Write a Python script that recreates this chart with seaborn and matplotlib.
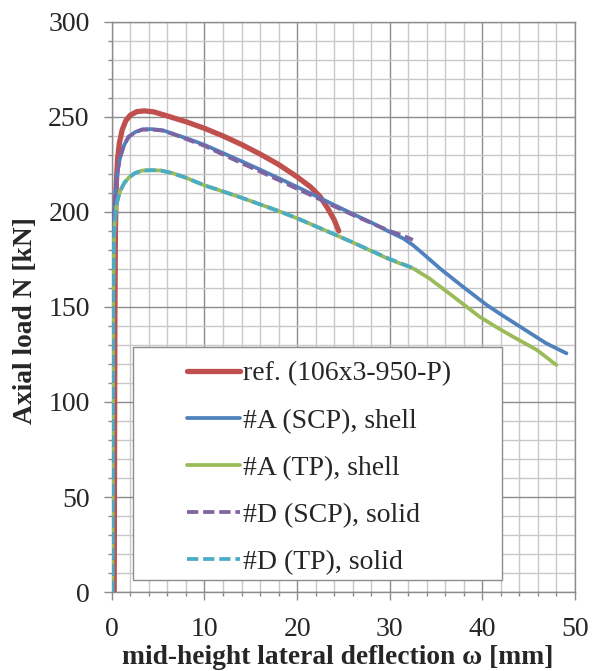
import numpy as np
import pandas as pd
import matplotlib
matplotlib.use("Agg")
import matplotlib.pyplot as plt
import seaborn as sns
from matplotlib.patches import Rectangle
from matplotlib.ticker import MultipleLocator

# ---------------- data ----------------
ref_x = [0.25, 0.28, 0.32, 0.38, 0.48, 0.62, 0.8, 1.1, 1.5, 2.0, 2.7, 3.5, 4.5, 6, 8, 10, 12, 14, 16, 18, 20, 21.5, 22.5, 23.3, 24.0, 24.5]
ref_y = [0, 60, 140, 190, 215, 228, 236, 243, 248, 251, 252.8, 253.2, 252.7, 250.5, 247.5, 244, 240, 235.5, 230.5, 225, 218.5, 213, 208, 202, 196, 190]

a_scp_x = [0.05, 0.1, 0.15, 0.25, 0.4, 0.6, 0.9, 1.3, 1.8, 2.5, 3.3, 4.3, 5.5, 7, 8.5, 10, 12, 14, 16, 18, 20, 22, 24, 26, 28, 30, 31.5, 32.5, 33.5, 35.4, 37.9, 40.5, 42.3, 44.1, 46.9, 49.1]
a_scp_y = [0, 100, 170, 200, 212, 221, 229, 235, 239.5, 242, 243.5, 243.6, 243, 240.5, 238, 235.3, 231, 226.7, 222.3, 217.8, 213.2, 208.5, 203.7, 199, 194.5, 189.5, 186, 182.6, 178.5, 170.4, 160.7, 151, 145.2, 139.6, 130.9, 125.6]

a_tp_x = [0.05, 0.1, 0.15, 0.25, 0.4, 0.6, 0.9, 1.3, 1.8, 2.5, 3.3, 4.3, 5.3, 6.5, 8, 10, 12, 14, 16, 18, 20, 22, 24, 26, 28, 30, 32.5, 34.3, 36.9, 39.7, 41.5, 43.3, 45.9, 48.0]
a_tp_y = [0, 90, 160, 190, 200, 206, 211, 215, 218, 220.5, 221.8, 222, 221.8, 220.5, 218, 214, 210.8, 207.5, 204, 200.5, 196.7, 192.5, 188.3, 184, 179.5, 175, 170.4, 165, 155.4, 144.9, 139.5, 134.4, 127.4, 119.5]

d_scp_x = [0.05, 0.1, 0.15, 0.25, 0.4, 0.6, 0.9, 1.3, 1.8, 2.5, 3.3, 4.3, 5.5, 7, 8.5, 10, 12, 14, 16, 18, 20, 22, 24, 26, 28, 30, 31.5, 32.5]
d_scp_y = [0, 100, 170, 200, 212, 221, 229, 235, 239.5, 242, 243.3, 243.4, 242.8, 240.3, 237.5, 234.8, 230.2, 225.7, 221.3, 216.8, 212.2, 207.7, 203, 198.5, 194.2, 190, 187.5, 185.3]

d_tp_x = [0.05, 0.1, 0.15, 0.25, 0.4, 0.6, 0.9, 1.3, 1.8, 2.5, 3.3, 4.3, 5.3, 6.5, 8, 10, 12, 14, 16, 18, 20, 22, 24, 26, 28, 30, 32, 32.9]
d_tp_y = [0, 90, 160, 190, 200, 206, 211, 215, 218, 220.5, 221.8, 222, 221.8, 220.5, 218, 214, 210.8, 207.5, 204, 200.5, 196.7, 192.5, 188.3, 184, 179.6, 175.3, 171.5, 169.8]

labels = ["ref. (106x3-950-P)", "#A (SCP), shell", "#A (TP), shell", "#D (SCP), solid", "#D (TP), solid"]
x_ticks = [0, 10, 20, 30, 40, 50]
y_ticks = [0, 50, 100, 150, 200, 250, 300]

# ---------------- style ----------------
sns.set_theme(style="white")
plt.rcParams["font.family"] = ["Liberation Serif", "DejaVu Serif"]

fig = plt.figure(figsize=(5.92, 6.71), dpi=100)
ax = fig.add_axes([0.189, 0.1177, 0.782, 0.8496])

series = [
    (ref_x, ref_y, "#C0504D", 3.8, None),
    (a_scp_x, a_scp_y, "#4F81BD", 2.7, None),
    (a_tp_x, a_tp_y, "#9BBB59", 2.7, None),
    (d_scp_x, d_scp_y, "#8064A2", 2.7, (3, 1.3)),
    (d_tp_x, d_tp_y, "#4BACC6", 2.7, (3, 1.3)),
]
handles = []
for (xs, ys, col, lw, dash), lab in zip(series, labels):
    df = pd.DataFrame({"x": xs, "y": ys})
    sns.lineplot(data=df, x="x", y="y", ax=ax, color=col, linewidth=lw,
                 sort=False, estimator=None, label=lab, zorder=4)
    ln = ax.get_lines()[-1]
    if dash is not None:
        ln.set_dashes(dash)
    handles.append(ln)

ax.set_xlim(0, 50)
ax.set_ylim(0, 300)
ax.set_xticks(x_ticks)
ax.set_yticks(y_ticks)
ax.xaxis.set_minor_locator(MultipleLocator(2))
ax.yaxis.set_minor_locator(MultipleLocator(10))
ax.grid(which="major", color="#8c8c8c", linewidth=1.0, zorder=0)
ax.grid(which="minor", color="#c8c8c8", linewidth=1.0, zorder=0)
ax.set_axisbelow(True)
for s in ax.spines.values():
    s.set_color("#8c8c8c")
    s.set_linewidth(1.0)
ax.tick_params(which="major", direction="out", length=6, width=1, color="#8c8c8c",
               labelsize=20, left=True, bottom=True)
ax.tick_params(which="minor", direction="out", length=3, width=1, color="#8c8c8c",
               left=True, bottom=True)
ax.tick_params(axis="y", which="major", pad=10)
ax.tick_params(axis="x", which="major", pad=12)

ax.set_xlabel("mid-height lateral deflection ω [mm]", fontsize=19.8, fontweight="bold")
ax.xaxis.set_label_coords(0.487, -0.093)
ax.set_ylabel("Axial load N [kN]", fontsize=19.8, fontweight="bold")
ax.yaxis.set_label_coords(-0.16, 0.477)

# legend box
rect = Rectangle((0.045, 0.021), 0.797, 0.4085, transform=ax.transAxes,
                 facecolor="white", edgecolor="#8c8c8c", linewidth=1.0, zorder=3)
ax.add_patch(rect)
leg = ax.legend(handles=handles, labels=labels, loc="upper left",
                bbox_to_anchor=(0.162, 0.405), frameon=False, fontsize=20,
                handlelength=1.9, handletextpad=0.12, labelspacing=0.78,
                borderpad=0.0, borderaxespad=0.0)
leg.set_zorder(5)

fig.savefig("out.png", dpi=100)
